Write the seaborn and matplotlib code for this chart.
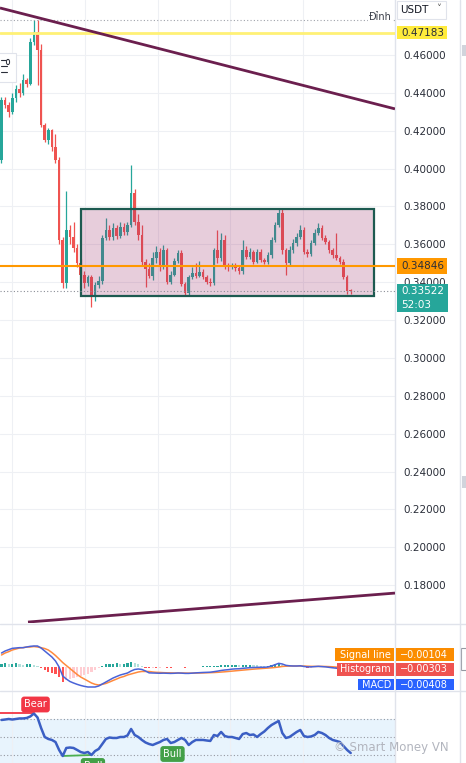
import matplotlib
matplotlib.use("Agg")
import matplotlib.pyplot as plt
import numpy as np
import pandas as pd
import seaborn as sns
from matplotlib.lines import Line2D
from matplotlib.patches import Rectangle, Circle
from matplotlib.transforms import Bbox, TransformedBbox

# ---- candles (one per bar, oldest first) ----
opens = [
    .4045, .4362, .4336, .4300, .4370, .4420, .4400, .4468, .4447, .4670,
    .4720, .4626, .4230, .4151, .4204, .4115, .4045, .3623, .3396, .3676,
    .3640, .3580, .3500, .3438, .3396, .3428, .3320, .3386, .3407, .3634,
    .3676, .3640, .3686, .3645, .3692, .3665, .3702, .3871, .3718, .3650,
    .3507, .3470, .3430, .3530, .3560, .3480, .3570, .3400, .3440, .3510,
    .3555, .3390, .3344, .3428, .3449, .3433, .3454, .3428, .3402, .3396,
    .3570, .3528, .3623, .3491, .3480, .3491, .3475, .3460, .3570, .3534,
    .3560, .3507, .3560, .3518, .3507, .3544, .3623, .3702, .3766, .3570,
    .3502, .3570, .3607, .3640, .3676, .3560, .3550, .3607, .3660, .3686,
    .3634, .3613, .3570, .3544, .3528, .3507, .3428, .3354]
highs = [
    .4378, .4380, .4350, .4400, .4440, .4450, .4500, .4480, .4690, .4785,
    .4785, .4660, .4240, .4215, .4210, .4180, .4060, .3640, .3880, .3700,
    .3720, .3600, .3520, .3460, .3440, .3440, .3400, .3430, .3650, .3740,
    .3700, .3710, .3700, .3720, .3710, .3720, .4019, .3890, .3760, .3700,
    .3520, .3500, .3560, .3590, .3580, .3597, .3580, .3460, .3530, .3570,
    .3570, .3400, .3440, .3480, .3500, .3510, .3470, .3440, .3420, .3580,
    .3676, .3660, .3650, .3500, .3500, .3500, .3490, .3623, .3590, .3580,
    .3570, .3575, .3575, .3530, .3560, .3640, .3720, .3792, .3790, .3580,
    .3590, .3630, .3660, .3702, .3690, .3575, .3620, .3680, .3712, .3700,
    .3650, .3625, .3580, .3660, .3540, .3520, .3440, .3365]
lows = [
    .4030, .4320, .4270, .4290, .4350, .4380, .4390, .4430, .4440, .4650,
    .4440, .4220, .4140, .4130, .4095, .4030, .3600, .3370, .3370, .3600,
    .3560, .3480, .3420, .3370, .3380, .3270, .3300, .3370, .3390, .3620,
    .3620, .3620, .3630, .3635, .3650, .3650, .3690, .3700, .3620, .3490,
    .3375, .3420, .3410, .3500, .3460, .3470, .3390, .3390, .3430, .3500,
    .3380, .3330, .3328, .3415, .3420, .3425, .3415, .3390, .3380, .3385,
    .3500, .3510, .3470, .3460, .3470, .3460, .3445, .3445, .3520, .3520,
    .3495, .3500, .3505, .3495, .3495, .3530, .3610, .3690, .3550, .3438,
    .3490, .3555, .3590, .3630, .3550, .3535, .3540, .3595, .3650, .3620,
    .3600, .3555, .3530, .3515, .3495, .3415, .3340, .3340]
closes = [
    .4362, .4336, .4300, .4370, .4420, .4400, .4468, .4447, .4670, .4720,
    .4626, .4230, .4151, .4204, .4115, .4045, .3623, .3396, .3676, .3640,
    .3580, .3500, .3438, .3396, .3428, .3320, .3386, .3407, .3634, .3676,
    .3640, .3686, .3645, .3692, .3665, .3702, .3871, .3718, .3650, .3507,
    .3470, .3430, .3530, .3560, .3480, .3570, .3400, .3440, .3510, .3555,
    .3390, .3344, .3428, .3449, .3433, .3454, .3428, .3402, .3396, .3570,
    .3528, .3623, .3491, .3480, .3491, .3475, .3460, .3570, .3534, .3560,
    .3507, .3560, .3518, .3507, .3544, .3623, .3702, .3766, .3570, .3502,
    .3570, .3607, .3640, .3676, .3560, .3550, .3607, .3660, .3686, .3634,
    .3613, .3570, .3544, .3528, .3507, .3428, .3354, .33522]

# ---- MACD pane ----
macd = [
    0.021, 0.024, 0.026, 0.028, 0.0285, 0.029, 0.029, 0.030, 0.031, 0.0315,
    0.0315, 0.0285, 0.024, 0.0195, 0.015, 0.009, 0.000, -0.0135, -0.018, -0.0217,
    -0.024, -0.026, -0.0277, -0.029, -0.030, -0.030, -0.030, -0.0285, -0.0255, -0.0225,
    -0.0195, -0.0165, -0.0142, -0.012, -0.0105, -0.009, -0.006, -0.0037, -0.003, -0.0037,
    -0.006, -0.0088, -0.009, -0.0092, -0.0094, -0.0092, -0.0094, -0.0096, -0.0094, -0.009,
    -0.0092, -0.0096, -0.0096, -0.0092, -0.0088, -0.0085, -0.0082, -0.008, -0.0078, -0.007,
    -0.0062, -0.0052, -0.0045, -0.004, -0.0032, -0.0028, -0.0026, -0.002, -0.0015, -0.001,
    -0.0008, -0.0005, -0.0004, -0.0004, 0.0000, 0.0015, 0.0035, 0.0055, 0.0045, 0.0025,
    0.0018, 0.0015, 0.0015, 0.0018, 0.0008, 0.0002, 0.0002, 0.0006, 0.001, 0.0006,
    0.0002, -0.0005, -0.0012, -0.0018, -0.0024, -0.0031, -0.0037, -0.00408]
signal = [
    0.018, 0.021, 0.023, 0.0255, 0.027, 0.0285, 0.029, 0.030, 0.030, 0.0307,
    0.030, 0.029, 0.0277, 0.0255, 0.0217, 0.0172, 0.012, 0.0067, 0.0022, -0.0022,
    -0.0067, -0.0112, -0.015, -0.018, -0.021, -0.024, -0.026, -0.027, -0.026, -0.0247,
    -0.0225, -0.0202, -0.018, -0.0157, -0.0142, -0.012, -0.0105, -0.009, -0.0075, -0.0067,
    -0.0067, -0.0067, -0.0075, -0.008, -0.0082, -0.0085, -0.0087, -0.0088, -0.009, -0.009,
    -0.009, -0.0091, -0.0092, -0.0092, -0.0091, -0.009, -0.0089, -0.0087, -0.0085, -0.0083,
    -0.008, -0.0076, -0.0072, -0.0067, -0.0062, -0.0057, -0.0052, -0.0047, -0.0042, -0.0037,
    -0.0032, -0.0028, -0.0024, -0.002, -0.0016, -0.0012, -0.0007, 0.0000, 0.0008, 0.0012,
    0.0014, 0.0015, 0.0015, 0.0015, 0.0014, 0.0012, 0.001, 0.0009, 0.0009, 0.0009,
    0.0008, 0.0006, 0.0003, -0.0001, -0.0004, -0.0007, -0.0009, -0.00104]
hist = [
    0.005, 0.006, 0.004, 0.005, 0.006, 0.004, 0.003, 0.004, 0.005, 0.003,
    0.001, -0.002, -0.005, -0.007, -0.009, -0.011, -0.015, -0.022, -0.019, -0.018,
    -0.016, -0.015, -0.013, -0.012, -0.010, -0.008, -0.005, -0.002, 0.002, 0.004,
    0.005, 0.005, 0.006, 0.004, 0.005, 0.006, 0.007, 0.006, 0.004, 0.002,
    -0.001, -0.0015, -0.001, -0.001, -0.0008, -0.0005, -0.0008, -0.001, -0.0005, 0.0003,
    -0.0003, -0.0008, -0.0005, 0.0002, 0.0004, 0.0006, 0.0008, 0.0008, 0.0008, 0.0013,
    0.0018, 0.0024, 0.0027, 0.0027, 0.003, 0.003, 0.0026, 0.0027, 0.0027, 0.0027,
    0.0024, 0.0023, 0.002, 0.0016, 0.0016, 0.0027, 0.0042, 0.0055, 0.0037, 0.0013,
    0.0004, 0.0, 0.0, 0.0003, -0.0006, -0.001, -0.0008, -0.0003, 0.0001, -0.0003,
    -0.0006, -0.0011, -0.0015, -0.0017, -0.002, -0.0024, -0.0028, -0.00303]

# ---- oscillator pane (Smart Money VN) ----
rsi = [
    68.9, 69.4, 70.0, 69.4, 70.0, 70.6, 70.6, 71.1, 72.8, 76.1,
    71.7, 60.0, 50.0, 47.8, 46.7, 44.4, 35.6, 28.9, 37.8, 38.3,
    37.8, 35.6, 33.3, 32.2, 33.3, 30.0, 34.4, 36.7, 42.2, 47.8,
    49.4, 48.9, 48.9, 50.0, 50.0, 51.7, 58.9, 52.2, 50.0, 46.7,
    43.9, 42.2, 41.1, 42.8, 44.4, 46.7, 47.8, 43.3, 44.4, 46.7,
    48.9, 46.7, 41.1, 44.4, 46.7, 46.7, 46.7, 46.1, 45.6, 52.2,
    51.1, 55.6, 51.1, 50.0, 50.0, 48.9, 47.8, 53.3, 54.4, 52.2,
    52.8, 50.0, 53.3, 56.1, 60.0, 63.3, 65.6, 67.8, 54.4, 48.9,
    50.0, 52.8, 55.6, 57.8, 51.1, 50.0, 50.6, 52.2, 55.6, 54.4,
    52.2, 48.9, 46.7, 45.6, 44.4, 40.0, 35.6, 32.2]
rsi_levels = [70, 50, 30]
bear_x, bear_y = [-0.4, 9], [77.0, 77.0]
bull_x, bull_y = [17, 25], [28.9, 30.0]
div_labels = [("Bear", 9.45, 86.1, "#f23645"), ("Bull", 25.4, 17.8, "#43a047"),
              ("Bull", 47.5, 31.1, "#43a047")]

# ---- drawings ----
resistance = 0.47183
support = 0.34846
last_price = 0.33522
top_mark = 0.4785
range_box = (22.0, 103.4, 0.3327, 0.3786)  # bar from, bar to, low, high
trend_top_x, trend_top_y = [-0.42, 109.3], [0.4848, 0.4315]
trend_bot_x, trend_bot_y = [7.36, 109.3], [0.1605, 0.1758]
price_ticks = [0.18, 0.20, 0.22, 0.24, 0.26, 0.28, 0.30, 0.32, 0.34,
               0.36, 0.38, 0.40, 0.42, 0.44, 0.46]

bars = pd.DataFrame({"open": opens, "high": highs, "low": lows, "close": closes,
                     "macd": macd, "signal": signal, "hist": hist, "rsi": rsi})
bars["i"] = np.arange(len(bars))

sns.set_theme(style="white")
plt.rcParams["font.family"] = ["DejaVu Sans"]

W, H = 466, 763
def fx(px):
    return px / W
def fy(py):
    return 1 - py / H

fig = plt.figure(figsize=(W / 100, H / 100), dpi=100)
ax = fig.add_axes([0, fy(623), fx(395), 623 / H])
ax_m = fig.add_axes([0, fy(690), fx(395), 67 / H])
ax_r = fig.add_axes([0, 0, fx(395), 73 / H])

xlim = (-1.5 / 3.6, 393.5 / 3.6)
grid_x = [2.9, 23.2, 43.5, 63.5, 83.7]
grid_c = "#eef0f4"
for a in (ax, ax_m, ax_r):
    a.set_xlim(*xlim)
    a.set_xticks(grid_x)
    a.tick_params(axis="x", length=0, labelbottom=False)
    for s in ("left", "top", "bottom"):
        a.spines[s].set_visible(False)
    a.spines["right"].set_color("#e0e3eb")
    a.spines["right"].set_linewidth(1)
    a.set_facecolor("white")

# main pane
ax.set_ylim(0.1600, 0.4890)
ax.yaxis.tick_right()
ax.set_yticks(price_ticks)
ax.set_yticklabels([f"{v:.5f}" for v in price_ticks])
ax.tick_params(axis="y", length=0, pad=6, labelsize=7.5, labelcolor="#2a2e39")
ax.grid(True, color=grid_c, lw=0.8)
ax.set_axisbelow(True)

up = bars["close"] >= bars["open"]
cols = np.where(up, "#26a69a", "#ef5350")
ax.vlines(bars["i"], bars["low"], bars["high"], colors=cols, lw=0.9, zorder=2)
body = np.maximum((bars["close"] - bars["open"]).abs(), 0.0004)
ax.bar(bars["i"], body, bottom=np.minimum(bars["open"], bars["close"]),
       width=0.7, color=cols, lw=0, zorder=3)

b0, b1, blo, bhi = range_box
ax.add_patch(Rectangle((b0, blo), b1 - b0, bhi - blo, fc=(0.62, 0.18, 0.42, 0.24),
                       ec="none", zorder=4))
ax.add_patch(Rectangle((b0, blo), b1 - b0, bhi - blo, fc="none",
                       ec="#1d5a50", lw=1.6, zorder=4.5))

ax.axhline(resistance, color="#fff176", lw=2, zorder=5)
ax.axhline(support, color="#ff9800", lw=1.5, zorder=5)
ax.axhline(last_price, color="#8a8d96", lw=0.8, ls=(0, (1, 2)), zorder=5)
ax.axhline(top_mark, color="#a0a3ab", lw=0.8, ls=(0, (1, 2)), zorder=5)
ax.plot(trend_top_x, trend_top_y, color="#6b1f4e", lw=2, zorder=6, solid_capstyle="butt")
ax.plot(trend_bot_x, trend_bot_y, color="#6b1f4e", lw=2, zorder=6, solid_capstyle="butt")

# MACD pane
ax_m.set_ylim(-0.0345, 0.066)
ax_m.set_yticks([])
ax_m.grid(True, axis="x", color=grid_c, lw=0.8)
hcols = []
prev = 0.0
for h in hist:
    if h >= 0:
        hcols.append("#26a69a" if h >= prev else "#b2dfdb")
    else:
        hcols.append("#ff5252" if h <= prev else "#ffcdd2")
    prev = h
ax_m.bar(bars["i"], bars["hist"], width=0.6, color=hcols, lw=0, zorder=1)
sns.lineplot(data=bars, x="i", y="signal", ax=ax_m, color="#ff8a3d", lw=1.1, zorder=3)
sns.lineplot(data=bars, x="i", y="macd", ax=ax_m, color="#4a63d8", lw=1.1, zorder=3)
ax_m.set_xlabel("")
ax_m.set_ylabel("")

# oscillator pane
ax_r.set_ylim(21.1, 102.2)
ax_r.set_yticks([])
ax_r.grid(True, axis="x", color=grid_c, lw=0.8)
ax_r.axhspan(21.1, 70, color="#2196f3", alpha=0.1, lw=0, zorder=0.5)
for lv in rsi_levels:
    ax_r.axhline(lv, color="#9598a1", lw=0.8, ls=(0, (1, 2)), zorder=1)
ax_r.plot(bear_x, bear_y, color="#f23645", lw=1.3, zorder=2)
ax_r.plot(bull_x, bull_y, color="#4caf50", lw=1.3, zorder=2)
sns.lineplot(data=bars, x="i", y="rsi", ax=ax_r, color="#3b5fc4", lw=1.8, zorder=3)
ax_r.set_xlabel("")
ax_r.set_ylabel("")
for txt, xi, yv, c in div_labels:
    ax_r.text(xi, yv, txt, ha="center", va="center", color="white", fontsize=7,
              bbox=dict(boxstyle="round,pad=0.3", fc=c, ec="none"), clip_on=True, zorder=4)

# ---- price-scale tags and chrome (pixel layout) ----
def box(x0, y0, x1, y1, fc, ec="none", lw=0, z=2):
    fig.add_artist(Rectangle((fx(x0), fy(y1)), fx(x1) - fx(x0), fy(y0) - fy(y1),
                             transform=fig.transFigure, fc=fc, ec=ec, lw=lw, zorder=z))

def label(px, py, s, color, size=7.5, ha="left", z=3, **kw):
    return fig.text(fx(px), fy(py), s, color=color, fontsize=size, ha=ha,
                    va="center", zorder=z, **kw)

def price_py(p):
    return H - ax.transData.transform((0, p))[1]

py = price_py(resistance)
box(397, py - 6.5, 447, py + 6.5, "#ffeb3b")
label(401, py, f"{resistance:.5f}", "#2a2e39")
py = price_py(support)
box(397, py - 8, 447, py + 8, "#ff9800")
label(401, py, f"{support:.5f}", "#2a2e39")
py = price_py(last_price)
box(397, py - 7, 448, py + 21, "#26a69a")
label(401, py, f"{last_price:.5f}", "white")
label(401, py + 14, "52:03", "white")

box(397, 1, 446, 19, "white", ec="#e0e3eb", lw=0.8)
label(400, 10, "USDT", "#131722", size=7.5)
label(436, 9, "˅", "#555555", size=7)
label(392, 17, "Đỉnh", "#3a3e49", size=7, ha="right",
      bbox=dict(boxstyle="square,pad=0.15", fc="white", ec="none"))

clip = TransformedBbox(Bbox.from_extents(0, fy(690), 1, 1), fig.transFigure)
macd_tags = [("Signal line", signal[-1], "#fb8c00", 335, 648, 661),
             ("Histogram", hist[-1], "#ef5350", 337, 663, 676),
             ("MACD", macd[-1], "#2962ff", 358, 679, 692)]
for name, val, c, x0, y0, y1 in macd_tags:
    box(x0, y0, 394, min(y1, 690), c)
    box(396, y0, 454, min(y1, 690), c)
    for t in (label(391, (y0 + y1) / 2, name, "white", size=7, ha="right"),
              label(400, (y0 + y1) / 2, f"\u2212{abs(val):.5f}", "white", size=7)):
        t.set_clip_on(True)
        t.set_clip_box(clip)

# pane separators and right strip
for yy in (623.5, 690.5):
    fig.add_artist(Line2D([0, 1], [fy(yy), fy(yy)], transform=fig.transFigure,
                          color="#e0e3eb", lw=1, zorder=2.5))
fig.add_artist(Line2D([fx(459.5), fx(459.5)], [0, 1], transform=fig.transFigure,
                      color="#e0e3eb", lw=1, zorder=2.5))
box(462, 45, 466, 56, "#d1d4dc")
box(462, 476, 466, 488, "#d1d4dc")
box(461, 648, 470, 670, "white", ec="#9598a1", lw=0.8)

# pane legend widget at top-left
box(-2, 53, 16, 82, "white", ec="#e0e3eb", lw=0.8, z=2)
for yy in (60, 66, 72):
    fig.add_artist(Line2D([fx(1), fx(7)], [fy(yy), fy(yy)], transform=fig.transFigure,
                          color="#2a2e39", lw=0.8, zorder=3))
fig.add_artist(Circle((fx(8), fy(62)), 1.6 / W, transform=fig.transFigure,
                      fc="white", ec="#2a2e39", lw=0.7, zorder=3))

label(334, 748, "\u00a9 Smart Money VN", "#b2b5be", size=8.5)

fig.savefig("out.png", dpi=100)
plt.close(fig)
